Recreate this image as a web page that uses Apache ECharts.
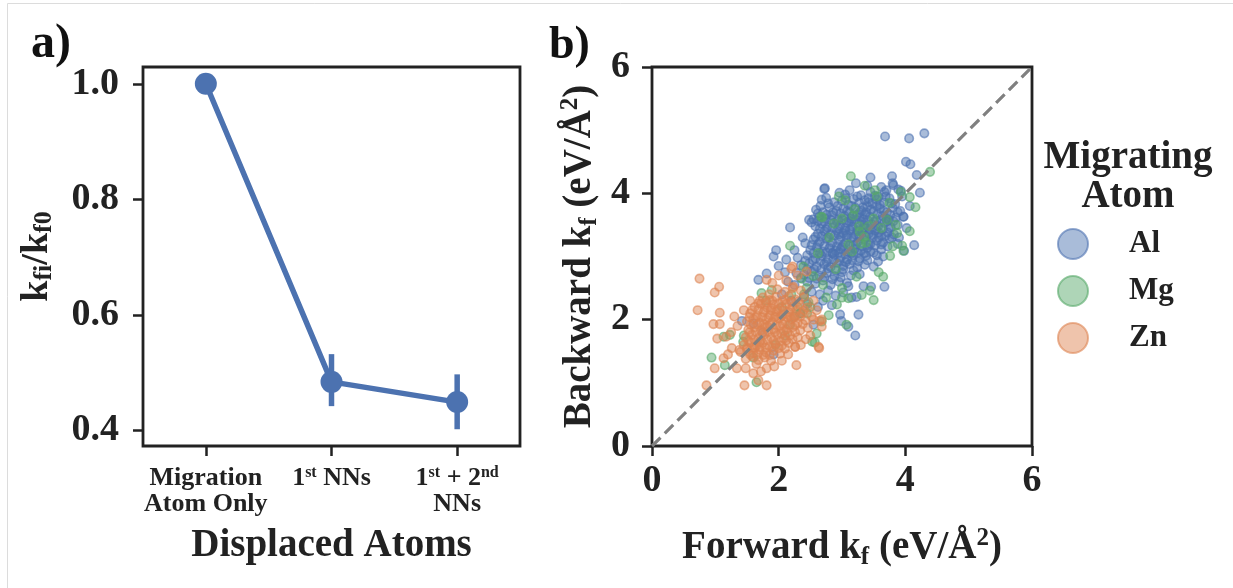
<!DOCTYPE html>
<html>
<head>
<meta charset="utf-8">
<script src="https://cdn.jsdelivr.net/npm/echarts@6/dist/echarts.min.js"></script>
<style>
html,body{margin:0;padding:0;background:#fff;}
#chart{width:1233px;height:588px;}
</style>
</head>
<body>
<div id="chart"></div>
<script>
// ---------- Panel a data ----------
const categories = ['Migration\nAtom Only', '1{sup|st} NNs', '1{sup|st} + 2{sup|nd}\nNNs'];
const ratioMean = [1.0, 0.484, 0.449];
const ratioLow = [1.0, 0.442, 0.402];
const ratioHigh = [1.0, 0.532, 0.497];
const ratioTicks = [0.4, 0.6, 0.8, 1.0];

// ---------- Panel b data (Forward kf, Backward kf) ----------
const kfTicks = [0, 2, 4, 6];
const alPoints = [
[2.72,4.07],[2.96,4.01],[3.05,3.98],[3.22,4.16],[3.30,3.97],[3.45,4.02],[3.58,3.95],[3.70,4.05],[3.81,4.13],[3.89,4.06],[3.62,4.10],[3.12,4.05],
[2.68,3.90],[2.75,3.93],[2.88,3.86],[3.00,3.88],[3.10,3.82],[3.18,3.91],[3.27,3.85],[3.36,3.89],[3.48,3.84],[3.55,3.90],[3.66,3.86],[3.75,3.92],[3.84,3.83],
[2.59,3.74],[2.70,3.70],[2.80,3.78],[2.91,3.72],[3.02,3.76],[3.12,3.70],[3.21,3.77],[3.31,3.72],[3.40,3.79],[3.50,3.71],[3.60,3.76],[3.71,3.70],[3.80,3.77],[3.92,3.72],
[2.48,3.58],[2.55,3.59],[2.64,3.63],[2.74,3.60],[2.84,3.65],[2.94,3.58],[3.04,3.64],[3.14,3.60],[3.24,3.66],[3.34,3.59],[3.44,3.63],[3.54,3.57],[3.64,3.64],[3.74,3.58],[3.85,3.62],[3.97,3.63],
[2.58,3.48],[2.68,3.52],[2.77,3.46],[2.87,3.53],[2.97,3.49],[3.07,3.54],[3.17,3.47],[3.27,3.52],[3.37,3.45],[3.47,3.51],[3.57,3.48],[3.67,3.53],[3.77,3.46],[3.88,3.50],[2.18,3.46],
[2.62,3.36],[2.72,3.40],[2.82,3.35],[2.92,3.41],[3.02,3.37],[3.12,3.42],[3.22,3.34],[3.32,3.39],[3.42,3.36],[3.52,3.41],[3.62,3.33],[3.72,3.38],[3.82,3.35],
[2.42,3.21],[2.55,3.27],[2.65,3.23],[2.75,3.28],[2.85,3.22],[2.95,3.26],[3.05,3.21],[3.15,3.29],[3.25,3.23],[3.35,3.27],[3.45,3.20],[3.55,3.25],[3.65,3.22],[3.75,3.28],[4.14,3.18],
[2.50,3.10],[2.60,3.14],[2.70,3.08],[2.80,3.13],[2.90,3.09],[3.00,3.15],[3.10,3.07],[3.20,3.12],[3.30,3.09],[3.40,3.14],[3.50,3.06],[3.62,3.11],[3.98,3.09],[1.96,3.10],
[1.92,3.00],[2.30,2.98],[2.45,3.02],[2.58,2.97],[2.68,3.01],[2.78,2.96],[2.88,3.03],[2.98,2.99],[3.08,2.95],[3.18,3.02],[3.28,2.97],[3.38,3.01],[3.65,3.00],[3.57,2.92],
[2.35,2.86],[2.48,2.89],[2.60,2.84],[2.72,2.88],[2.82,2.83],[2.92,2.90],[3.02,2.85],[3.12,2.88],[3.24,2.82],[3.36,2.87],[3.50,2.84],
[2.28,2.74],[2.40,2.71],[2.52,2.76],[2.64,2.70],[2.76,2.74],[2.88,2.69],[3.00,2.75],[3.14,2.70],[3.28,2.72],[1.81,2.73],[1.68,2.63],
[2.45,2.60],[2.58,2.57],[2.70,2.62],[2.82,2.55],[2.95,2.60],[3.08,2.58],[3.46,2.52],[3.34,2.53],[3.67,2.52],[2.25,2.55],[3.10,2.53],
[2.52,2.44],[2.65,2.40],[2.78,2.46],[2.90,2.38],[3.02,2.43],[2.40,2.36],[3.23,2.36],[3.15,2.35],
[2.84,2.23],[2.97,2.08],[2.99,1.98],[3.10,1.89],[3.26,2.08],[3.21,1.75],[2.55,1.92],[2.34,2.10],[2.62,2.20],[2.45,2.25],[2.70,2.30],[2.20,2.30],
[1.42,1.98],[1.60,1.94],[1.92,1.45],[1.75,1.80],[2.05,2.40],[2.15,2.60],[2.00,2.85],[2.12,2.95],[2.25,3.10],[2.38,3.30],[2.10,2.75],
[3.68,4.90],[4.06,4.87],[4.30,4.95],[4.01,4.50],[4.08,4.46],[3.79,4.27],[4.18,4.29],[3.40,4.12],[4.23,4.01],[4.07,3.80],[3.97,3.63],
[3.67,4.02],[3.93,4.04],[3.80,4.16],[2.73,4.08],[3.45,4.25],[3.95,3.95],[4.02,3.45],[3.90,3.30],[3.88,3.20],
[3.05,3.45],[3.15,3.55],[3.25,3.40],[3.35,3.50],[3.08,3.30],[3.18,3.18],[2.95,3.35],[3.28,3.62],[3.38,3.70],[3.48,3.30],[3.58,3.38],[2.85,3.05],[2.98,3.12],[3.42,3.92],[3.55,3.80],[3.70,3.60],
[2.66,3.80],[2.78,3.84],[2.93,3.80],[3.06,3.92],[3.15,3.80],[3.24,3.95],[3.33,3.78],[3.42,3.86],[3.52,3.96],[3.60,3.82],[3.69,3.95],[3.78,3.84],
[2.62,3.68],[2.76,3.66],[2.86,3.70],[2.98,3.68],[3.08,3.72],[3.17,3.64],[3.28,3.70],[3.37,3.66],[3.46,3.74],[3.56,3.67],[3.66,3.72],[3.76,3.66],[3.88,3.70],
[2.52,3.54],[2.62,3.56],[2.72,3.55],[2.82,3.58],[2.92,3.55],[3.01,3.58],[3.11,3.56],[3.21,3.58],[3.31,3.55],[3.41,3.57],[3.51,3.55],[3.61,3.58],[3.71,3.56],[3.81,3.56],
[2.65,3.44],[2.75,3.43],[2.85,3.46],[2.95,3.44],[3.05,3.41],[3.15,3.44],[3.24,3.42],[3.34,3.45],[3.44,3.43],[3.54,3.44],[3.64,3.43],[3.74,3.44],
[2.58,3.31],[2.68,3.32],[2.78,3.30],[2.88,3.33],[2.98,3.31],[3.08,3.34],[3.18,3.30],[3.28,3.32],[3.38,3.31],[3.48,3.34],[3.58,3.30],[3.68,3.32],[3.79,3.30],
[2.52,3.18],[2.62,3.19],[2.72,3.17],[2.82,3.18],[2.92,3.16],[3.02,3.18],[3.12,3.17],[3.22,3.19],[3.32,3.16],[3.42,3.18],[3.52,3.17],[3.62,3.19],[3.72,3.16],
[2.55,3.05],[2.65,3.05],[2.75,3.06],[2.85,3.05],[2.95,3.06],[3.05,3.04],[3.15,3.05],[3.25,3.06],[3.35,3.05],[3.45,3.08],[3.55,3.02],
[2.42,2.93],[2.54,2.94],[2.66,2.93],[2.76,2.91],[2.86,2.95],[2.96,2.93],[3.06,2.91],[3.16,2.94],[3.26,2.92],[3.40,2.94],
[2.45,2.80],[2.56,2.80],[2.67,2.79],[2.78,2.81],[2.90,2.78],[3.02,2.80],[3.18,2.78],
[2.35,2.66],[2.48,2.66],[2.60,2.65],[2.72,2.67],[2.85,2.64],[2.98,2.67]
];
const mgPoints = [
[3.14,4.27],[3.36,4.12],[4.39,4.34],[3.52,4.05],[3.93,4.02],[4.07,3.94],[4.16,3.78],[2.67,3.63],[4.07,3.40],
[3.95,3.17],[3.80,3.16],[3.97,3.09],[3.76,3.01],[3.28,3.39],[3.35,3.31],[3.42,3.48],[3.27,3.48],[3.10,3.19],[3.16,3.08],
[3.71,3.58],[3.87,3.37],[3.05,3.89],[3.18,3.65],[2.87,3.52],[3.65,2.68],[3.44,2.46],[3.50,2.31],[3.31,2.39],[3.10,2.34],
[3.07,1.92],[2.79,2.07],[2.92,2.24],[2.60,1.78],[2.57,1.64],[2.18,3.17],[2.69,3.62],[2.39,2.84],[2.55,2.69],[1.89,2.47],
[2.36,2.65],[1.23,1.76],[1.13,1.73],[0.94,1.40],[1.15,1.28],[1.44,1.65],[1.65,1.01],[2.68,1.97],[2.53,1.65],[3.23,2.68],
[2.05,2.20],[2.25,2.05],[1.80,2.30],[2.40,2.40],[2.10,1.75],[1.95,1.60],[1.73,2.42],[2.18,1.92],[2.34,2.10],[2.44,2.50],
[2.47,2.28],[2.62,3.05],[2.80,3.30],[3.00,3.60],[3.55,3.95],[3.62,3.45],[3.30,3.20],[2.90,2.80],[2.70,2.55],[3.00,2.50],
[2.50,2.20],[2.75,2.35],[2.20,2.40],[2.45,2.10],[3.20,3.75],[3.50,3.60],[3.85,3.50],[2.95,3.95],[3.75,3.85],[3.38,3.22],
[1.45,1.75],[1.60,1.40],[2.30,2.20],[3.00,2.35],[3.58,2.75]
];
const znPoints = [
[1.98,2.48],[2.10,2.44],[2.22,2.50],[2.35,2.46],[1.85,2.40],
[1.75,2.35],[1.86,2.31],[1.96,2.36],[2.06,2.30],[2.16,2.37],[2.27,2.32],[2.40,2.36],
[1.62,2.20],[1.72,2.25],[1.82,2.19],[1.92,2.24],[2.02,2.18],[2.12,2.25],[2.22,2.20],[2.33,2.24],[2.45,2.19],
[1.55,2.10],[1.66,2.06],[1.76,2.12],[1.86,2.07],[1.96,2.13],[2.06,2.08],[2.16,2.12],[2.26,2.06],[2.38,2.11],[2.52,2.05],
[1.50,1.97],[1.60,2.01],[1.70,1.95],[1.80,2.00],[1.90,1.96],[2.00,2.02],[2.10,1.97],[2.20,2.01],[2.30,1.95],[2.42,1.99],[2.55,2.00],
[1.52,1.84],[1.62,1.88],[1.72,1.83],[1.82,1.89],[1.92,1.85],[2.02,1.90],[2.12,1.84],[2.22,1.88],[2.34,1.83],[2.46,1.87],
[1.48,1.72],[1.58,1.76],[1.68,1.71],[1.78,1.77],[1.88,1.72],[1.98,1.76],[2.08,1.70],[2.18,1.75],[2.30,1.72],[2.43,1.69],
[1.45,1.60],[1.55,1.64],[1.65,1.59],[1.75,1.63],[1.85,1.58],[1.95,1.62],[2.05,1.59],[2.16,1.63],[2.26,1.57],
[1.40,1.49],[1.50,1.53],[1.60,1.47],[1.70,1.52],[1.80,1.48],[1.92,1.51],[2.02,1.46],
[1.38,1.52],[1.48,1.38],[1.58,1.42],[1.68,1.36],[1.78,1.40],[1.88,1.35],[1.65,1.30],
[0.75,2.65],[1.06,2.52],[0.99,2.43],[0.72,2.15],[1.07,2.11],[0.97,1.93],[1.07,1.93],[1.03,1.70],[1.17,1.73],[1.26,1.55],
[1.13,1.39],[0.99,1.23],[0.86,0.96],[1.34,1.23],[1.48,1.23],[1.46,0.96],[1.68,1.04],[1.81,0.96],[1.81,1.23],[1.93,1.26],
[2.28,1.28],[2.26,1.57],[2.64,1.55],[2.68,2.00],[2.22,2.84],[1.81,2.63],[1.68,2.26],[2.23,2.52],[2.65,1.98],[2.68,1.89],
[2.63,1.57],[1.30,2.05],[1.35,1.90],[1.25,1.80],[2.00,2.70],[2.12,2.62],[2.30,2.70],[1.90,2.58],[1.55,2.30],[1.45,2.15],
[2.55,2.30],[2.60,2.15],[1.60,1.15],[1.72,1.18],[2.05,1.35],[2.15,1.45],[1.20,1.45],[2.20,2.81],[2.44,2.76],[1.95,2.05],
[1.78,1.88],[2.08,1.82],[1.88,2.15],[2.18,2.05],[1.70,1.65],[1.62,1.55],[2.35,1.60],[2.50,1.75],
[1.70,2.30],[1.80,2.27],[1.90,2.30],[2.00,2.26],[2.10,2.31],[2.20,2.28],[2.31,2.29],
[1.58,2.15],[1.68,2.16],[1.78,2.15],[1.88,2.18],[1.98,2.16],[2.08,2.15],[2.18,2.16],[2.28,2.15],[2.40,2.15],
[1.54,2.04],[1.64,2.03],[1.74,2.04],[1.84,2.03],[1.94,2.04],[2.04,2.05],[2.14,2.04],[2.24,2.03],[2.34,2.05],
[1.56,1.92],[1.66,1.92],[1.76,1.93],[1.86,1.92],[1.96,1.91],[2.06,1.93],[2.16,1.92],[2.26,1.91],[2.38,1.93],
[1.54,1.80],[1.64,1.81],[1.74,1.79],[1.84,1.81],[1.94,1.80],[2.04,1.78],[2.14,1.80],[2.26,1.80],
[1.52,1.67],[1.62,1.68],[1.72,1.67],[1.82,1.68],[1.92,1.67],[2.02,1.66],[2.12,1.67],[2.22,1.69],
[1.50,1.56],[1.60,1.56],[1.70,1.57],[1.80,1.55],[1.90,1.56],[2.00,1.55],[2.10,1.54],
[1.55,1.45],[1.66,1.45],[1.76,1.44],[1.86,1.44]
];

const FONT = "'Liberation Serif', 'Times New Roman', serif";
const TXT = '#222222';
const BLUE = '#4C72B0', GREEN = '#55A868', ORANGE = '#DD8452';

function fill(hex, a) {
  const r = parseInt(hex.slice(1,3),16), g = parseInt(hex.slice(3,5),16), b = parseInt(hex.slice(5,7),16);
  return 'rgba(' + r + ',' + g + ',' + b + ',' + a + ')';
}

const chart = echarts.init(document.getElementById('chart'));
const tickStyle = {show: true, length: 10, lineStyle: {color: TXT, width: 2.5}};
const axisLblBase = {color: TXT, fontFamily: FONT, fontWeight: 'bold', fontSize: 38};
const subSup = {
  sub: {fontFamily: FONT, fontWeight: 'bold', fontSize: 25, color: TXT, verticalAlign: 'bottom', lineHeight: 18},
  sup: {fontFamily: FONT, fontWeight: 'bold', fontSize: 25, color: TXT, verticalAlign: 'top', lineHeight: 18}
};

function scatterSeries(name, pts, color) {
  return {
    name: name, type: 'scatter', xAxisIndex: 1, yAxisIndex: 1,
    data: pts, symbolSize: 8.5,
    itemStyle: {color: fill(color, 0.6), borderColor: fill(color, 0.75), borderWidth: 1.6},
    emphasis: {disabled: true}
  };
}

const option = {
  animation: false,
  backgroundColor: '#fff',
  graphic: [{type: 'rect', shape: {x: 7.5, y: 3.5, width: 1300, height: 700}, style: {fill: 'none', stroke: '#dcdcdc', lineWidth: 1}, silent: true}],
  title: [
    {text: 'a)', left: 26, top: 16, textStyle: {fontFamily: FONT, fontWeight: 'bold', fontSize: 48, color: '#111'}},
    {text: 'b)', left: 544, top: 18, textStyle: {fontFamily: FONT, fontWeight: 'bold', fontSize: 46, color: '#111'}},
    {text: 'Migrating\nAtom', left: 1123, top: 133, textAlign: 'center',
     textStyle: {fontFamily: FONT, fontWeight: 'bold', fontSize: 39, lineHeight: 39, color: TXT}}
  ],
  legend: {
    data: ['Al', 'Mg', 'Zn'], orient: 'vertical', left: 1052, top: 223,
    itemWidth: 30, itemHeight: 30, itemGap: 15, icon: 'circle',
    itemStyle: {borderWidth: 2},
    textStyle: {fontFamily: FONT, fontWeight: 'bold', fontSize: 31, lineHeight: 30, color: TXT, padding: [0, 0, 0, 36]}
  },
  grid: [
    {left: 143, top: 67, width: 377, height: 379, show: true, borderColor: TXT, borderWidth: 2.8, backgroundColor: 'transparent'},
    {left: 652, top: 67, width: 380, height: 379, show: true, borderColor: TXT, borderWidth: 2.8, backgroundColor: 'transparent'}
  ],
  xAxis: [
    {type: 'category', gridIndex: 0, data: categories, boundaryGap: true,
     axisLine: {show: false}, axisTick: Object.assign({alignWithLabel: true}, tickStyle),
     axisLabel: {color: TXT, fontFamily: FONT, fontWeight: 'bold', fontSize: 26, lineHeight: 26, margin: 19, interval: 0,
       rich: {sup: {fontFamily: FONT, fontWeight: 'bold', fontSize: 16, color: TXT, verticalAlign: 'top', lineHeight: 14}}},
     name: 'Displaced Atoms', nameLocation: 'middle', nameGap: 80,
     nameTextStyle: {color: TXT, fontFamily: FONT, fontWeight: 'bold', fontSize: 39}},
    {type: 'value', gridIndex: 1, min: 0, max: 6, interval: 2,
     axisLine: {show: false}, axisTick: tickStyle, splitLine: {show: false},
     axisLabel: Object.assign({margin: 16}, axisLblBase),
     name: 'Forward k{sub|f} (eV/Å{sup|2})', nameLocation: 'middle', nameGap: 80,
     nameTextStyle: {color: TXT, fontFamily: FONT, fontWeight: 'bold', fontSize: 39, lineHeight: 44, rich: subSup}}
  ],
  yAxis: [
    {type: 'value', gridIndex: 0, min: 0.373, max: 1.029,
     axisLine: {show: false}, splitLine: {show: false},
     axisTick: Object.assign({customValues: ratioTicks}, tickStyle),
     axisLabel: Object.assign({customValues: ratioTicks, margin: 24, formatter: v => v.toFixed(1)}, axisLblBase),
     name: 'k{sub|fi}/k{sub|f0}', nameLocation: 'middle', nameGap: 86, nameRotate: 90,
     nameTextStyle: {color: TXT, fontFamily: FONT, fontWeight: 'bold', fontSize: 38, lineHeight: 40,
       rich: {sub: {fontFamily: FONT, fontWeight: 'bold', fontSize: 26, color: TXT, verticalAlign: 'bottom', lineHeight: 18}}}},
    {type: 'value', gridIndex: 1, min: 0, max: 6, interval: 2,
     axisLine: {show: false}, splitLine: {show: false}, axisTick: tickStyle,
     axisLabel: Object.assign({margin: 22}, axisLblBase),
     name: 'Backward k{sub|f} (eV/Å{sup|2})', nameLocation: 'middle', nameGap: 50, nameRotate: 90,
     nameTextStyle: {color: TXT, fontFamily: FONT, fontWeight: 'bold', fontSize: 39, lineHeight: 44, rich: subSup}}
  ],
  series: [
    {type: 'line', xAxisIndex: 0, yAxisIndex: 0, data: ratioMean, symbol: 'circle', symbolSize: 22,
     lineStyle: {color: BLUE, width: 5.5}, itemStyle: {color: BLUE}, z: 3},
    {type: 'custom', xAxisIndex: 0, yAxisIndex: 0,
     data: ratioMean.map((m, i) => [i, ratioLow[i], ratioHigh[i]]),
     encode: {x: 0, y: [1, 2]},
     renderItem: function (params, api) {
       const lo = api.coord([api.value(0), api.value(1)]);
       const hi = api.coord([api.value(0), api.value(2)]);
       return {type: 'line', shape: {x1: lo[0], y1: lo[1], x2: hi[0], y2: hi[1]}, style: {stroke: BLUE, lineWidth: 5.5}};
     }, z: 2},
    scatterSeries('Al', alPoints, BLUE),
    scatterSeries('Mg', mgPoints, GREEN),
    scatterSeries('Zn', znPoints, ORANGE),
    {type: 'line', xAxisIndex: 1, yAxisIndex: 1, data: [[kfTicks[0], kfTicks[0]], [kfTicks[3], kfTicks[3]]],
     symbol: 'none', lineStyle: {color: '#808080', width: 3.2, type: [12, 6]}, z: 5, silent: true}
  ]
};
chart.setOption(option);
</script>
</body>
</html>
